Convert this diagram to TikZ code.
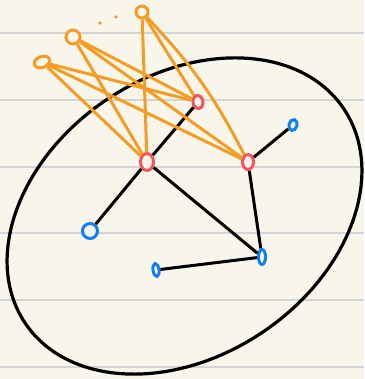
\documentclass[tikz,border=0pt]{standalone}
\usepackage{tikz}
\usetikzlibrary{shapes.geometric}
\definecolor{nbcream}{RGB}{248,246,234}
\definecolor{nbrule}{RGB}{212,212,212}
\definecolor{nborange}{RGB}{244,156,36}
\definecolor{nbred}{RGB}{240,84,92}
\definecolor{nbblue}{RGB}{16,128,240}

\begin{document}
\begin{tikzpicture}[
  x=1pt,y=1pt,
  vtx/.style={draw,ellipse,line width=3pt,fill=nbcream,inner sep=0pt},
  outerv/.style={vtx,draw=nborange},
  innerv/.style={vtx,draw=nbred},
  leafv/.style={vtx,draw=nbblue},
  tree/.style={line width=3pt,black},
  link/.style={line width=3pt,nborange},
]
  % Paper
  \fill[nbcream] (0,0) rectangle (364,379);
  \useasboundingbox (0,0) rectangle (364,379);
  \foreach \y in {12.3,79,145.7,212.3,279,345.7}
    \draw[nbrule,line width=1.8pt] (0,\y) -- (364,\y);

  % Big region
  \draw[line width=3.2pt,rotate around={34:(184.5,163)}]
    (184.5,163) ellipse [x radius=192,y radius=140];

  % Outer vertices
  \node[outerv,minimum width=16pt,minimum height=11pt,rotate=20] (o1) at (42,317) {};
  \node[outerv,minimum width=14pt,minimum height=14pt] (o2) at (73,342) {};
  \node[outerv,minimum width=12pt,minimum height=12pt] (o3) at (142,367) {};
  \fill[nborange] (100,356) circle (1.8pt);
  \fill[nborange] (116,362) circle (1.8pt);

  % Inner vertices
  \node[innerv,minimum width=10pt,minimum height=13pt,rotate=10] (r1) at (198,277) {};
  \node[innerv,minimum width=13pt,minimum height=17pt] (r2) at (147,217) {};
  \node[innerv,minimum width=11pt,minimum height=15pt] (r3) at (248,217) {};

  % Leaves
  \node[leafv,minimum width=8pt,minimum height=11pt,rotate=-15] (b1) at (293,254) {};
  \node[leafv,minimum width=15pt,minimum height=15pt] (b2) at (90,148) {};
  \node[leafv,minimum width=7pt,minimum height=15pt] (b3) at (262,122) {};
  \node[leafv,minimum width=6pt,minimum height=13pt,rotate=8] (b4) at (156,109) {};

  % Tree edges
  \draw[tree] (r1) -- (r2);
  \draw[tree] (r2) -- (b2);
  \draw[tree] (r2) -- (b3);
  \draw[tree] (r3) -- (b1);
  \draw[tree] (r3) -- (b3);
  \draw[tree] (b3) -- (b4);

  % Links to the outside
  \foreach \o in {o1,o2}
    \foreach \r in {r1,r2,r3}
      \draw[link] (\o) -- (\r);
  \draw[link] (o3) -- (r1);
  \draw[link] (o3) -- (r2);
  \draw[link] (o3) to[bend left=8] (r3);
\end{tikzpicture}
\end{document}
